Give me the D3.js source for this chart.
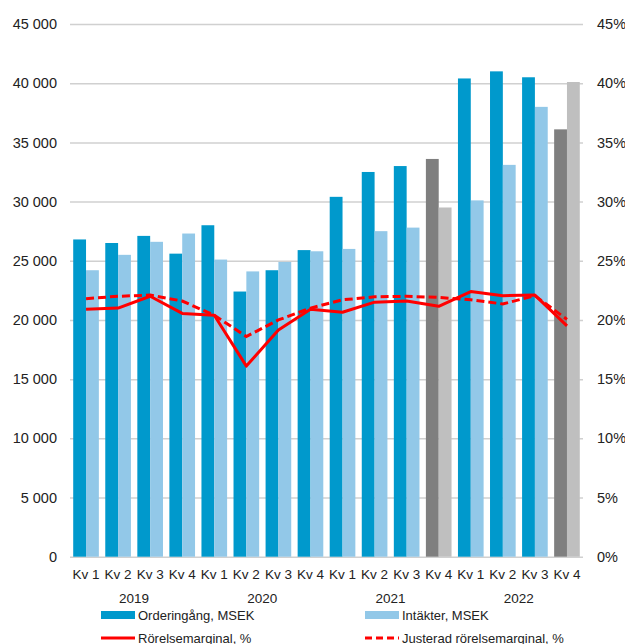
<!DOCTYPE html>
<html>
<head>
<meta charset="utf-8">
<script src="https://cdn.jsdelivr.net/npm/d3@7"></script>
<style>
  body { margin: 0; background: #fff; }
  text { font-family: "Liberation Sans", Arial, sans-serif; fill: #222; }
</style>
</head>
<body>
<svg id="plot"></svg>
<script>
// Data
const quarters = ["Kv 1", "Kv 2", "Kv 3", "Kv 4", "Kv 1", "Kv 2", "Kv 3", "Kv 4",
                  "Kv 1", "Kv 2", "Kv 3", "Kv 4", "Kv 1", "Kv 2", "Kv 3", "Kv 4"];
const years = ["2019", "2020", "2021", "2022"];
const orders = [26800, 26500, 27100, 25600, 28000, 22400, 24200, 25900,
                30400, 32500, 33000, 33600, 40400, 41000, 40500, 36100];
const revenue = [24200, 25500, 26600, 27300, 25100, 24100, 24900, 25800,
                 26000, 27500, 27800, 29500, 30100, 33100, 38000, 40100];
const opMargin = [20.9, 21.0, 22.0, 20.55, 20.4, 16.1, 19.15, 20.9,
                  20.65, 21.5, 21.6, 21.15, 22.4, 22.05, 22.1, 19.5];
const adjMargin = [21.8, 22.0, 22.1, 21.6, 20.4, 18.6, 20.0, 21.0,
                   21.7, 21.95, 22.0, 21.9, 21.7, 21.35, 22.05, 20.05];
const leftTicks = [0, 5000, 10000, 15000, 20000, 25000, 30000, 35000, 40000, 45000];
const rightTicks = [0, 5, 10, 15, 20, 25, 30, 35, 40, 45];
// Kv 4 quarters are drawn grey
const greyIdx = [11, 15];

const W = 625, H = 644;
const plotL = 70, plotR = 583, plotT = 24, plotB = 556.7;

const svg = d3.select("#plot").attr("width", W).attr("height", H);

const x = d3.scaleBand()
    .domain(d3.range(quarters.length))
    .range([plotL, plotR])
    .paddingInner(0.2)
    .paddingOuter(0.1);
const xs = d3.scaleBand()
    .domain([0, 1])
    .range([0, x.bandwidth()]);
const y = d3.scaleLinear().domain([0, 45000]).range([plotB, plotT]);
const y2 = d3.scaleLinear().domain([0, 45]).range([plotB, plotT]);

const fmt = d => d3.format(",")(d).replace(",", " ");

// Gridlines + left axis
const gl = svg.append("g")
    .attr("transform", "translate(" + plotL + ",0)")
    .call(d3.axisLeft(y).tickValues(leftTicks).tickSize(-(plotR - plotL)).tickPadding(13).tickFormat(fmt));
gl.select(".domain").remove();
gl.selectAll(".tick line").attr("stroke", "#d0d0d0").attr("stroke-width", 1.5);
gl.selectAll(".tick text").style("font-size", "14.5px").attr("fill", "#222");

// Right axis
const gr = svg.append("g")
    .attr("transform", "translate(" + plotR + ",0)")
    .call(d3.axisRight(y2).tickValues(rightTicks).tickSize(0).tickPadding(14).tickFormat(d => d + "%"));
gr.select(".domain").remove();
gr.selectAll(".tick text").style("font-size", "14.5px").attr("fill", "#222");

// Bars
const color = (i, s) => greyIdx.includes(i)
    ? (s === 0 ? "#7f7f7f" : "#bfbfbf")
    : (s === 0 ? "#0099cc" : "#92c8e8");

[orders, revenue].forEach((series, s) => {
  svg.append("g").selectAll("rect")
      .data(series)
    .enter().append("rect")
      .attr("x", (d, i) => x(i) + xs(s))
      .attr("width", xs.bandwidth())
      .attr("y", d => y(d))
      .attr("height", d => plotB - y(d))
      .attr("fill", (d, i) => color(i, s));
});

// Margin lines
const line = d3.line()
    .x((d, i) => x(i) + x.bandwidth() / 2)
    .y(d => y2(d));

svg.append("path")
    .datum(opMargin)
    .attr("d", line)
    .attr("fill", "none")
    .attr("stroke", "#ff0000")
    .attr("stroke-width", 3)
    .attr("stroke-linejoin", "round");

svg.append("path")
    .datum(adjMargin)
    .attr("d", line)
    .attr("fill", "none")
    .attr("stroke", "#ff0000")
    .attr("stroke-width", 3)
    .attr("stroke-dasharray", "8,4");

// Quarter labels
svg.append("g").selectAll("text")
    .data(quarters)
  .enter().append("text")
    .attr("x", (d, i) => x(i) + x.bandwidth() / 2)
    .attr("y", 578.5)
    .attr("text-anchor", "middle")
    .style("font-size", "13.5px")
    .text(d => d);

// Year labels, centred under each group of four
svg.append("g").selectAll("text")
    .data(years)
  .enter().append("text")
    .attr("x", (d, i) => (x(i * 4) + x(i * 4 + 3) + x.bandwidth()) / 2)
    .attr("y", 603)
    .attr("text-anchor", "middle")
    .style("font-size", "13.5px")
    .text(d => d);

// Legend
const legend = [
  {label: "Orderingång, MSEK", type: "bar", color: "#0099cc", x: 101, y: 615},
  {label: "Intäkter, MSEK", type: "bar", color: "#92c8e8", x: 365, y: 615},
  {label: "Rörelsemarginal, %", type: "line", color: "#ff0000", x: 101, y: 638},
  {label: "Justerad rörelsemarginal, %", type: "dash", color: "#ff0000", x: 365, y: 638}
];
const lg = svg.append("g").selectAll("g")
    .data(legend)
  .enter().append("g")
    .attr("transform", d => "translate(" + d.x + "," + d.y + ")");
lg.filter(d => d.type === "bar").append("rect")
    .attr("x", 0).attr("y", -4).attr("width", 34).attr("height", 8)
    .attr("fill", d => d.color);
lg.filter(d => d.type !== "bar").append("line")
    .attr("x1", 0).attr("x2", 34).attr("y1", 0).attr("y2", 0)
    .attr("stroke", d => d.color).attr("stroke-width", 3)
    .attr("stroke-dasharray", d => d.type === "dash" ? "7,4" : null);
lg.append("text")
    .attr("x", 37)
    .attr("y", 4.5)
    .style("font-size", "13px")
    .text(d => d.label);
</script>
</body>
</html>
